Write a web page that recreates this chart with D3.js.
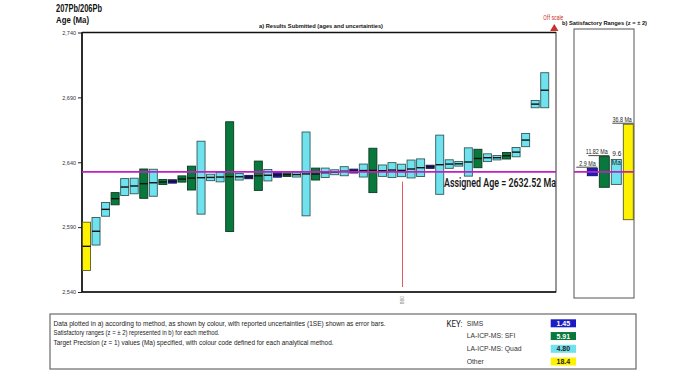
<!DOCTYPE html>
<html><head><meta charset="utf-8">
<script src="https://cdn.jsdelivr.net/npm/d3@7"></script>
<style>body{margin:0;background:#fff;} svg{display:block;font-family:"Liberation Sans",Arial,sans-serif;}</style>
</head><body><svg id="c" width="693" height="371"></svg>
<script>
// ---------- data ----------
const ages = [2575.2, 2586.8, 2603.7, 2611.9, 2620.9, 2621.7, 2623.5, 2624.2, 2624.8, 2625.2,
  2627.1, 2627.8, 2628.1, 2628.3, 2628.6, 2628.9, 2628.8, 2628.6, 2629.6, 2630.0,
  2630.2, 2630.4, 2630.5, 2631.0, 2630.9, 2631.9, 2632.3, 2633.1, 2633.2, 2633.6,
  2633.7, 2633.5, 2634.0, 2633.7, 2634.8, 2635.8, 2636.5, 2638.1, 2638.6, 2638.8,
  2640.2, 2642.9, 2643.5, 2643.5, 2645.0, 2647.8, 2657.1, 2684.8, 2695.5];
const errors1SE = [18.6, 10.6, 5.3, 4.7, 6.5, 6.0, 11.3, 10.4, 1.9, 1.3,
  2.4, 9.2, 28.1, 2.5, 3.7, 42.3, 2.5, 1.3, 11.3, 4.4,
  1.7, 1.4, 1.9, 32.3, 4.6, 3.6, 1.9, 3.5, 1.5, 5.0,
  17.1, 4.4, 5.7, 4.8, 6.9, 6.8, 1.2, 22.8, 3.3, 1.8,
  10.9, 7.1, 3.0, 1.7, 2.5, 3.6, 5.1, 2.8, 13.5];
const sampleMethod = ["Other","Quad","Quad","SFI","Quad","Quad","SFI","Quad","SFI","SIMS",
  "SFI","SFI","Quad","Quad","Quad","SFI","Quad","SIMS","SFI","Quad",
  "SIMS","SFI","Quad","Quad","SFI","Quad","Quad","Quad","SIMS","Quad",
  "SFI","Quad","Quad","Quad","Quad","Quad","SIMS","Quad","Quad","Quad",
  "Quad","SFI","Quad","Quad","SFI","Quad","Quad","Quad","Quad"];
const offScaleCount = 1;            // one result above the plotted range
const highlightIndex = 33;          // lab highlighted with red marker
const highlightLabel = "860";
const methodKeys = ["SIMS", "SFI", "Quad", "Other"];
const methodNames = ["SIMS", "LA-ICP-MS: SFI", "LA-ICP-MS: Quad", "Other"];
const targetPrecision = [1.45, 5.91, 4.80, 18.4];
const assignedAge = 2632.52;
const yTicks = [2540, 2590, 2640, 2690, 2740];

// ---------- styles ----------
const fill = {SIMS:"#1c1cc4", SFI:"#08783c", Quad:"#70e2ee", Other:"#fff200"};
const stroke = {SIMS:"#10104a", SFI:"#0c3a20", Quad:"#2f5a5c", Other:"#5a5a20"};
const magenta = "#c21fc2";

const svg = d3.select("#c");
const L = 82, R = 556, T = 32.5, B = 292;

const y = d3.scaleLinear().domain([2540, 2740]).range([B, T]);
const n = ages.length + offScaleCount;
const x = d3.scaleBand().domain(d3.range(n)).range([81.7, 81.7 + n * 9.547])
  .paddingInner(0.16).paddingOuter(0.08);
const bw = x.bandwidth();

// titles
svg.append("text").attr("x", 56).attr("y", 12).attr("font-size", 10).attr("font-weight", "bold")
  .attr("textLength", 46).attr("lengthAdjust", "spacingAndGlyphs").attr("fill", "#111").text("207Pb/206Pb");
svg.append("text").attr("x", 56).attr("y", 23).attr("font-size", 8.5).attr("font-weight", "bold")
  .attr("textLength", 33).attr("lengthAdjust", "spacingAndGlyphs").attr("fill", "#111").text("Age (Ma)");
svg.append("text").attr("x", 259).attr("y", 28).attr("font-size", 6).attr("font-weight", "bold")
  .attr("textLength", 124).attr("lengthAdjust", "spacingAndGlyphs").attr("fill", "#111")
  .text("a) Results Submitted (ages and uncertainties)");
svg.append("text").attr("x", 562).attr("y", 25).attr("font-size", 6).attr("font-weight", "bold")
  .attr("textLength", 85).attr("lengthAdjust", "spacingAndGlyphs").attr("fill", "#111")
  .text("b) Satisfactory Ranges (z = \u00b1 2)");

// y axis
const yAxis = d3.axisLeft(y).tickValues(yTicks).tickFormat(d3.format(",")).tickSize(4).tickPadding(2);
const ga = svg.append("g").attr("transform", `translate(${L},0)`).call(yAxis);
ga.select(".domain").remove();
ga.selectAll("line").attr("stroke", "#222").attr("stroke-width", 1);
ga.selectAll("text").attr("font-size", 5.5).attr("fill", "#333").attr("font-family", "Liberation Sans, Arial");

// frame
svg.append("rect").attr("x", L).attr("y", T).attr("width", R - L).attr("height", B - T)
  .attr("fill", "none").attr("stroke", "#333").attr("stroke-width", 1);
svg.append("line").attr("x1", L).attr("x2", R).attr("y1", T).attr("y2", T).attr("stroke", "#111").attr("stroke-width", 1.6);
svg.append("line").attr("x1", L).attr("x2", L).attr("y1", T).attr("y2", B).attr("stroke", "#111").attr("stroke-width", 1.6);
svg.append("line").attr("x1", L).attr("x2", R).attr("y1", B).attr("y2", B).attr("stroke", "#111").attr("stroke-width", 1.6);

// highlight marker
const hx = Math.round(x(highlightIndex) + bw / 2) + 0.5;
svg.append("line").attr("x1", hx).attr("x2", hx)
  .attr("y1", y(ages[highlightIndex] - errors1SE[highlightIndex]) + 5).attr("y2", B - 5)
  .attr("stroke", "#e35a5a").attr("stroke-width", 1);
svg.append("text").attr("transform", `translate(${hx + 1.8},${B + 4}) rotate(-90)`)
  .attr("text-anchor", "end").attr("font-size", 5).attr("fill", "#888").text(highlightLabel);

// bars
const data = ages.map((a, i) => ({i, a, e: errors1SE[i], m: sampleMethod[i]}));
const gb = svg.append("g");
gb.selectAll("rect").data(data).join("rect")
  .attr("x", d => x(d.i)).attr("width", bw)
  .attr("y", d => y(d.a + d.e)).attr("height", d => y(d.a - d.e) - y(d.a + d.e))
  .attr("fill", d => fill[d.m]).attr("stroke", d => stroke[d.m]).attr("stroke-width", 0.9);
gb.selectAll("line").data(data).join("line")
  .attr("x1", d => x(d.i)).attr("x2", d => x(d.i) + bw)
  .attr("y1", d => y(d.a)).attr("y2", d => y(d.a))
  .attr("stroke", "#111").attr("stroke-width", 1.4);

// assigned age line
svg.append("line").attr("x1", L).attr("x2", R).attr("y1", y(assignedAge)).attr("y2", y(assignedAge))
  .attr("stroke", magenta).attr("stroke-width", 1.8);
svg.append("text").attr("x", 444).attr("y", y(assignedAge) + 15).attr("font-size", 12)
  .attr("font-family", "Liberation Sans Narrow, Roboto, Arial").attr("font-weight", 600)
  .attr("textLength", 112).attr("lengthAdjust", "spacingAndGlyphs").attr("fill", "#1a1a1a")
  .text("Assigned Age = " + assignedAge.toFixed(2) + " Ma");

// off scale marker
const ox = x(ages.length) + bw / 2;
svg.append("path").attr("d", `M${ox},${T - 8.5} L${ox + 4.2},${T - 1.5} L${ox - 4.2},${T - 1.5} Z`).attr("fill", "#c8312c");
svg.append("text").attr("x", ox - 1).attr("y", 19.5).attr("text-anchor", "middle").attr("font-size", 7.5)
  .attr("font-family", "Liberation Sans Narrow, Roboto, Arial")
  .attr("textLength", 20).attr("lengthAdjust", "spacingAndGlyphs").attr("fill", "#c8312c").text("Off scale");

// right panel
const PL = 574, PR = 634, PT = 29, PB = 298;
svg.append("rect").attr("x", PL).attr("y", PT).attr("width", PR - PL).attr("height", PB - PT)
  .attr("fill", "none").attr("stroke", "#555").attr("stroke-width", 1);
const xr = d3.scaleBand().domain(methodKeys).range([586.3, 634.3]).paddingInner(0.167).paddingOuter(0.083);
const rw = xr.bandwidth();
const rdata = methodKeys.map((k, j) => ({k, p: targetPrecision[j], r: 2 * targetPrecision[j]}));
svg.append("g").selectAll("rect").data(rdata).join("rect")
  .attr("x", d => xr(d.k)).attr("width", rw)
  .attr("y", d => y(assignedAge + d.r)).attr("height", d => y(assignedAge - d.r) - y(assignedAge + d.r))
  .attr("fill", d => fill[d.k]).attr("stroke", d => stroke[d.k]).attr("stroke-width", 0.9);
svg.append("line").attr("x1", PL).attr("x2", PR).attr("y1", y(assignedAge)).attr("y2", y(assignedAge))
  .attr("stroke", magenta).attr("stroke-width", 1.8);
const fmt = v => (+v.toFixed(2)).toString();
rdata.forEach(d => {
  const top = y(assignedAge + d.r);
  const right = xr(d.k) + rw;
  if (d.k === "Quad") {
    const cx = xr(d.k) + rw / 2;
    svg.append("text").attr("x", cx + 0.5).attr("y", top - 3.2).attr("text-anchor", "middle")
      .attr("font-size", 6.5).attr("fill", "#222").text(fmt(d.r));
    svg.append("text").attr("x", cx).attr("y", top + 6).attr("text-anchor", "middle")
      .attr("font-size", 6.5).attr("fill", "#222").text("Ma");
  } else {
    svg.append("line").attr("x1", right - 21).attr("x2", right).attr("y1", top - 1).attr("y2", top - 1)
      .attr("stroke", "#333").attr("stroke-width", 0.9);
    const t = fmt(d.r) + " Ma";
    const w = t.length * 2.75;
    svg.append("text").attr("x", right - 1.5 - w).attr("y", top - 2.3)
      .attr("font-size", 6.5).attr("fill", "#222")
      .attr("textLength", w).attr("lengthAdjust", "spacingAndGlyphs").text(t);
  }
});

// bottom key box
svg.append("rect").attr("x", 50).attr("y", 314).attr("width", 586).attr("height", 55)
  .attr("fill", "none").attr("stroke", "#6a6a6a").attr("stroke-width", 1.2);
const notes = ["Data plotted in a) according to method, as shown by colour, with reported uncertainties (1SE) shown as error bars.",
  "Satisfactory ranges (z = \u00b1 2) represented in b) for each method.",
  "Target Precision (z = 1) values (Ma) specified, with colour code defined for each analytical method."];
const noteW = [332, 166, 280];
notes.forEach((t, i) => {
  svg.append("text").attr("x", 53.5).attr("y", 325.5 + i * 9.7).attr("font-size", 6.3).attr("fill", "#222")
    .attr("textLength", noteW[i]).attr("lengthAdjust", "spacingAndGlyphs").text(t);
});
svg.append("text").attr("x", 446.5).attr("y", 326.5).attr("font-size", 9)
  .attr("font-family", "Liberation Sans Narrow, Roboto, Arial")
  .attr("textLength", 16).attr("lengthAdjust", "spacingAndGlyphs").attr("fill", "#222").text("KEY:");
methodNames.forEach((nm, j) => {
  const cy = 323.3 + j * 12.75;
  svg.append("text").attr("x", 466.7).attr("y", cy + 2.4).attr("font-size", 6.8).attr("fill", "#333").text(nm);
  svg.append("rect").attr("x", 550.7).attr("y", cy - 4).attr("width", 25.3).attr("height", 8)
    .attr("fill", fill[methodKeys[j]]);
  svg.append("text").attr("x", 563.3).attr("y", cy + 2.5).attr("text-anchor", "middle").attr("font-size", 7)
    .attr("font-weight", "bold").attr("fill", j < 2 ? "#fff" : "#222")
    .text(targetPrecision[j].toFixed(targetPrecision[j] >= 10 ? 1 : 2));
});
</script></body></html>
